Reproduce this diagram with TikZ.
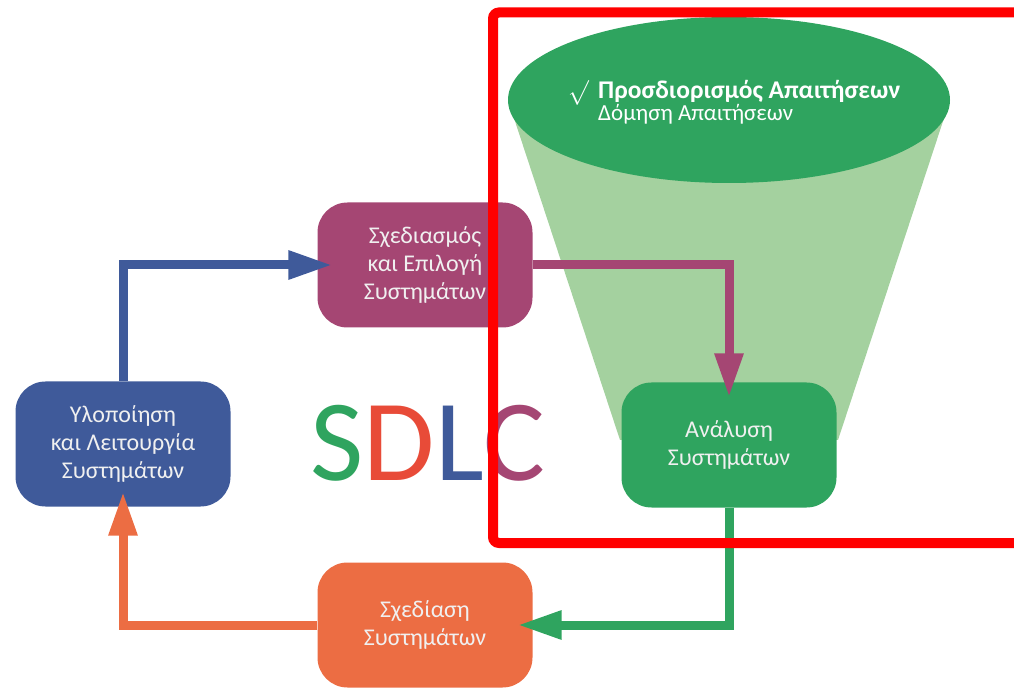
\documentclass[tikz,border=0pt]{standalone}
\usepackage{fontspec}
\setmainfont{Carlito}
\usetikzlibrary{shapes,arrows.meta}
\definecolor{sdgreen}{HTML}{2FA45F}
\definecolor{sdlight}{HTML}{A4D19F}
\definecolor{sdmagenta}{HTML}{A54673}
\definecolor{sdblue}{HTML}{3F5A9A}
\definecolor{sdorange}{HTML}{EC6D43}
\definecolor{sdred}{HTML}{E84B38}
\newcommand{\boxfont}{\fontsize{24}{28}\selectfont}
\tikzstyle{block} = [rectangle, text=white!94!black, font=\boxfont, align=center,
rounded corners=30pt, minimum width=215pt, minimum height=125pt]
\tikzstyle{line} = [draw, line width=9pt, -{Triangle[length=44pt,width=27pt]}, shorten >=-15pt]

\begin{document}
\begin{tikzpicture}[x=1pt,y=1pt]
 \useasboundingbox (0,0) rectangle (1014,691);
 % funnel and requirements ellipse
 \fill [sdlight] (508,591) -- (950,591) -- (838,251) -- (620,251) -- cycle;
 \node [ellipse, fill=sdgreen, minimum width=442pt, minimum height=166pt, inner sep=0pt] (REQ) at (729,591) {};
 \node [anchor=base west, align=left, text=white, font=\fontsize{23}{22}\selectfont, inner sep=0pt] (REQtxt) at (598,570)
   {{\fontsize{25.5}{22}\selectfont\textbf{Προσδιορισμός Απαιτήσεων}}\\Δόμηση Απαιτήσεων};
 \node [anchor=base east, text=white, font=\boxfont, inner sep=0pt] (CHK) at (589,592) {$\surd$};
 % the four stages
 \node [block, fill=sdmagenta] (SD) at (425,426) {Σχεδιασμός\\και Επιλογή\\Συστημάτων};
 \node [block, fill=sdgreen] (AN) at (729,246) {Ανάλυση\\Συστημάτων};
 \node [block, fill=sdorange] (SX) at (425,66) {Σχεδίαση\\Συστημάτων};
 \node [block, fill=sdblue] (YL) at (123,247) {Υλοποίηση\\και Λειτουργία\\Συστημάτων};
 \node [anchor=base, font=\fontsize{116}{116}\selectfont, inner sep=0pt] (SDLC) at (428,211)
   {\textcolor{sdgreen}{S}\textcolor{sdred}{D}\textcolor{sdblue}{L}\textcolor{sdmagenta}{C}};
 \path [line, draw=sdblue] (YL.north) |- (SD.west);
 \path [line, draw=sdmagenta] (SD.east) -| (AN.north);
 \path [line, draw=sdgreen] (AN.south) |- (SX.east);
 \path [line, draw=sdorange] (SX.west) -| (YL.south);
 % highlight frame
 \draw [red, line width=10pt, rounded corners=6pt] (1030,678.5) -- (493,678.5) -- (493,148) -- (1030,148);
\end{tikzpicture}
\end{document}
